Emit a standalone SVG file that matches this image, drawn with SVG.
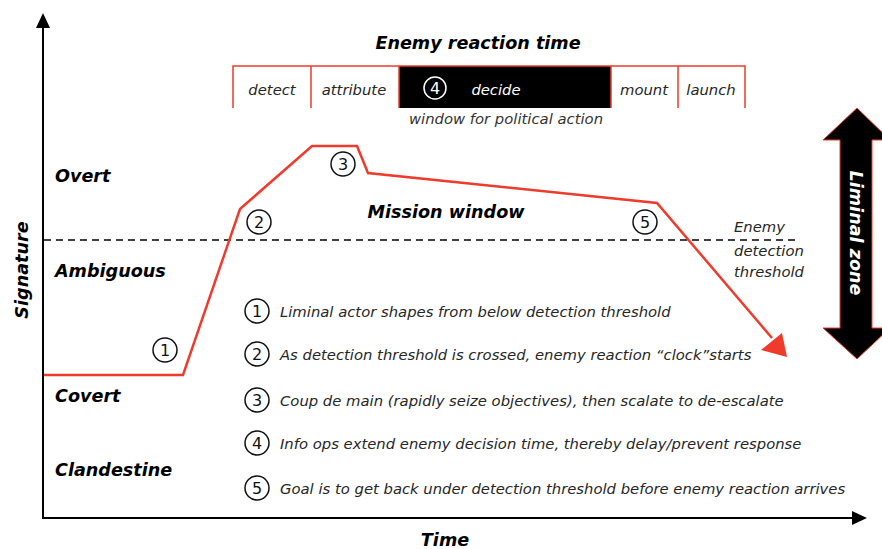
<svg xmlns="http://www.w3.org/2000/svg" width="882" height="549" viewBox="0 0 882 549">
  <style>
    .lbl { font-family: "DejaVu Sans", "Liberation Sans", sans-serif; font-weight: bold; font-style: oblique; font-size: 17.6px; fill: #000; }
    .it { font-family: "DejaVu Sans", "Liberation Sans", sans-serif; font-style: oblique; font-size: 14.8px; fill: #262626; }
    .num { font-family: "DejaVu Sans", "Liberation Sans", sans-serif; font-size: 16px; fill: #111; text-anchor: middle; }
    .circ { fill: none; stroke: #111; stroke-width: 1.5; }
    .red { fill: none; stroke: #ee3b2b; stroke-width: 2.5; stroke-linejoin: miter; }
    .box { fill: none; stroke: #ee3b2b; stroke-width: 1.5; }
  </style>
  <rect width="882" height="549" fill="#fff"/>

  <!-- axes -->
  <g id="axes">
    <line x1="43" y1="518" x2="43" y2="26" stroke="#000" stroke-width="2"/>
    <path d="M36,28 L43,13 L50,28 z" fill="#000"/>
    <line x1="42" y1="518" x2="854" y2="518" stroke="#000" stroke-width="2"/>
    <path d="M852,511 L867,518 L852,525 z" fill="#000"/>
    <text class="lbl" x="445" y="546" text-anchor="middle">Time</text>
    <text class="lbl" transform="translate(28,270) rotate(-90)" text-anchor="middle">Signature</text>
  </g>

  <!-- signature levels -->
  <g id="levels">
    <text class="lbl" x="55" y="182">Overt</text>
    <text class="lbl" x="55" y="277">Ambiguous</text>
    <text class="lbl" x="55" y="402">Covert</text>
    <text class="lbl" x="55" y="476">Clandestine</text>
  </g>

  <!-- detection threshold -->
  <g id="threshold">
    <line x1="44" y1="240" x2="797" y2="240" stroke="#000" stroke-width="1.6" stroke-dasharray="7,5"/>
    <text class="it" x="734" y="232" font-size="15.5">Enemy</text>
    <text class="it" x="734" y="256" font-size="15.5">detection</text>
    <text class="it" x="734" y="277" font-size="15.5">threshold</text>
  </g>

  <!-- enemy reaction timeline -->
  <g id="reaction">
    <text class="lbl" x="478" y="49" text-anchor="middle" font-size="18.5">Enemy reaction time</text>
    <rect x="399" y="66" width="212" height="42" fill="#000"/>
    <path class="box" d="M233,108 V66 H745 V108 M311,66 V108 M399,66 V108 M611,66 V108 M678,66 V108"/>
    <text class="it" x="272" y="95" text-anchor="middle" font-size="16">detect</text>
    <text class="it" x="354" y="95" text-anchor="middle" font-size="16">attribute</text>
    <circle cx="435" cy="88" r="11" fill="none" stroke="#fff" stroke-width="1.5"/>
    <text class="num" x="435" y="94" style="fill:#fff">4</text>
    <text class="it" x="496" y="95" text-anchor="middle" font-size="16" style="fill:#fff">decide</text>
    <text class="it" x="644" y="95" text-anchor="middle" font-size="16">mount</text>
    <text class="it" x="711" y="95" text-anchor="middle" font-size="16">launch</text>
    <text class="it" x="506" y="124" text-anchor="middle" font-size="16" style="fill:#333">window for political action</text>
  </g>

  <text class="lbl" x="446" y="218" text-anchor="middle">Mission window</text>

  <!-- liminal zone double arrow -->
  <g id="liminal">
    <path d="M857,108 L890,140 L872,140 L872,328 L890,328 L857,359 L823,328 L840,328 L840,140 L823,140 z" fill="#000" stroke="#ee3b2b" stroke-width="1"/>
    <text class="lbl" transform="translate(850,233) rotate(90)" text-anchor="middle" style="fill:#fff" font-size="18">Liminal zone</text>
  </g>

  <!-- mission trajectory -->
  <g id="connectors">
    <path class="red" d="M44,375 H183 L240,209 L312,146 H357 L368,173 L657,203 L772,338"/>
    <path d="M787,357 L761,350 L782,333 z" fill="#ee3b2b"/>
  </g>

  <!-- trajectory markers -->
  <g id="marker-1"><circle class="circ" cx="165" cy="350" r="12"/><text class="num" x="165" y="356">1</text></g>
  <g id="marker-2"><circle class="circ" cx="259" cy="222" r="12"/><text class="num" x="259" y="228">2</text></g>
  <g id="marker-3"><circle class="circ" cx="343" cy="164" r="12"/><text class="num" x="343" y="170">3</text></g>
  <g id="marker-5"><circle class="circ" cx="645" cy="222" r="12"/><text class="num" x="645" y="228">5</text></g>

  <!-- legend -->
  <g id="legend">
    <circle class="circ" cx="257" cy="311" r="12"/><text class="num" x="257" y="317">1</text>
    <text class="it" x="280" y="317">Liminal actor shapes from below detection threshold</text>
    <circle class="circ" cx="257" cy="354" r="12"/><text class="num" x="257" y="360">2</text>
    <text class="it" x="280" y="360">As detection threshold is crossed, enemy reaction “clock”starts</text>
    <circle class="circ" cx="257" cy="400" r="12"/><text class="num" x="257" y="406">3</text>
    <text class="it" x="280" y="406">Coup de main (rapidly seize objectives), then scalate to de-escalate</text>
    <circle class="circ" cx="257" cy="443" r="12"/><text class="num" x="257" y="449">4</text>
    <text class="it" x="280" y="449">Info ops extend enemy decision time, thereby delay/prevent response</text>
    <circle class="circ" cx="257" cy="488" r="12"/><text class="num" x="257" y="494">5</text>
    <text class="it" x="280" y="494">Goal is to get back under detection threshold before enemy reaction arrives</text>
  </g>
</svg>
